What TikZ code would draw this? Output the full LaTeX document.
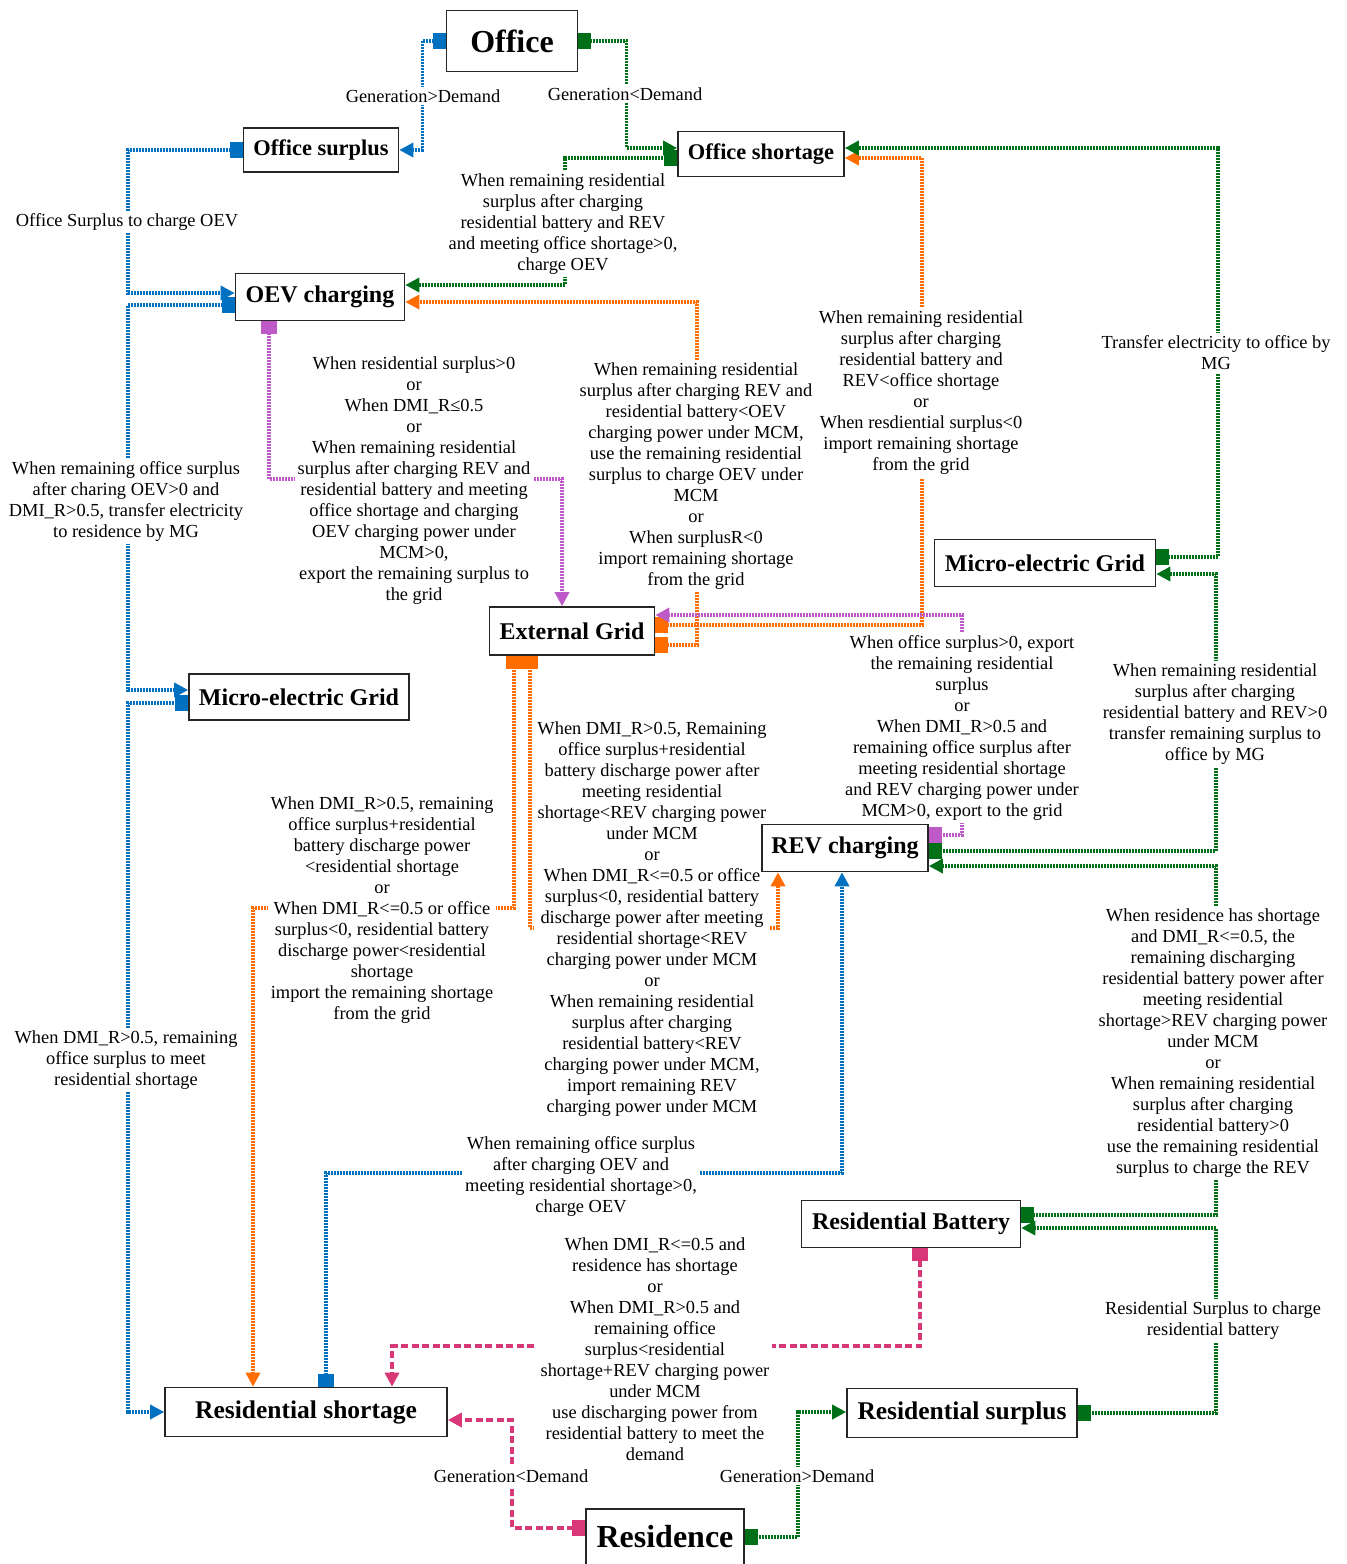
\documentclass[tikz,border=0pt]{standalone}
\usepackage{fontspec}
\setmainfont{Liberation Serif}
\usetikzlibrary{arrows.meta,calc}
\definecolor{cBlue}{RGB}{0,112,192}
\definecolor{cGreen}{RGB}{0,112,24}
\definecolor{cOrange}{RGB}{255,108,0}
\definecolor{cPurple}{RGB}{190,90,200}
\definecolor{cPink}{RGB}{216,56,120}
\tikzset{
  box/.style={draw=black!85, line width=1.6pt, fill=white, inner sep=0pt,
    font=\bfseries\fontsize{24}{24}\selectfont},
  bigbox/.style={box, font=\bfseries\fontsize{32}{32}\selectfont},
  lbl/.style={fill=white, align=center, inner sep=3pt,
    font=\fontsize{18.4}{21}\selectfont},
  flow/.style={line width=3.4pt, dash pattern=on 2pt off 1pt,
    arrows={Square[length=13pt,width=16pt]-Triangle[length=14pt,width=14pt]}},
  fb/.style={flow, draw=cBlue},
  fg/.style={flow, draw=cGreen},
  fo/.style={flow, draw=cOrange},
  fp/.style={flow, draw=cPurple},
  fk/.style={line width=3.6pt, dash pattern=on 7pt off 3.5pt, draw=cPink,
    arrows={Square[length=13pt,width=16pt]-Triangle[length=14pt,width=14pt]}}
}
\begin{document}
\begin{tikzpicture}[x=1pt,y=-1pt]
\useasboundingbox (0,0) rectangle (1347,1564);
\path
  (512,41)   coordinate (pOffice)
  (321,150)  coordinate (pOsur)
  (761,154)  coordinate (pOshort)
  (320,297)  coordinate (pOev)
  (1045,563) coordinate (pMicr)
  (572,631)  coordinate (pEgrid)
  (299,697)  coordinate (pMicl)
  (845,848)  coordinate (pRev)
  (911,1224) coordinate (pRbat)
  (306,1412) coordinate (pRshort)
  (962,1413) coordinate (pRsur)
  (665,1537) coordinate (pRes);
\node[bigbox, minimum width=131pt, minimum height=61pt] (office) at (pOffice) {Office};
\node[box, minimum width=155pt, minimum height=44pt, font=\bfseries\fontsize{22.4}{22.4}\selectfont] (osur) at (pOsur) {Office surplus};
\node[box, minimum width=166pt, minimum height=45pt, font=\bfseries\fontsize{22.4}{22.4}\selectfont] (oshort) at (pOshort) {Office shortage};
\node[box, minimum width=169pt, minimum height=47pt] (oev) at (pOev) {OEV charging};
\node[box, minimum width=221pt, minimum height=47pt] (micr) at (pMicr) {Micro-electric Grid};
\node[box, minimum width=165pt, minimum height=48pt] (egrid) at (pEgrid) {External Grid};
\node[box, minimum width=220pt, minimum height=46pt] (micl) at (pMicl) {Micro-electric Grid};
\node[box, minimum width=166pt, minimum height=47pt] (rev) at (pRev) {REV charging};
\node[box, minimum width=219pt, minimum height=47pt] (rbat) at (pRbat) {Residential Battery};
\node[box, minimum width=282pt, minimum height=49pt, font=\bfseries\fontsize{25.5}{25.5}\selectfont] (rshort) at (pRshort) {Residential shortage};
\node[box, minimum width=230pt, minimum height=49pt, font=\bfseries\fontsize{25.5}{25.5}\selectfont] (rsur) at (pRsur) {Residential surplus};
\node[bigbox, minimum width=158pt, minimum height=56pt] (res) at (pRes) {Residence};

% connectors
\draw[fb] (office.west) -- ++(-23,0) |- (osur.east);
\draw[fg] (office.east) -- ++(48,0) |- ($(oshort.west)+(0,-6)$);
\draw[fb] (osur.west) -- (128,150) |- ($(oev.west)+(0,-4)$);
\draw[fg] ($(oshort.west)+(0,4)$) -- (565,158) |- ($(oev.east)+(0,-12)$);
\draw[fo] ($(egrid.east)+(0,-6)$) -- (922,625) |- ($(oshort.east)+(0,4)$);
\draw[fo] ($(egrid.east)+(0,14)$) -- (697,645) |- ($(oev.east)+(0,5)$);
\draw[fp] ($(rev.east)+(0,-13)$) -- (962,835) |- ($(egrid.east)+(0,-16)$);
\draw[fp] ($(oev.south)+(-51,0)$) -- (269,479) -| ($(egrid.north)+(-10,0)$);
\draw[fb] ($(oev.west)+(0,8)$) -- (128,305) |- ($(micl.west)+(0,-7)$);
\draw[fb] ($(micl.west)+(0,6)$) -- (128,703) |- (rshort.west);
\draw[fo] ($(egrid.south)+(-58,0)$) -- (514,908) -| ($(rshort.north)+(-53,0)$);
\draw[fo] ($(egrid.south)+(-42,0)$) -- (530,928) -| ($(rev.south)+(-67,0)$);
\draw[fb] ($(rshort.north)+(20,0)$) -- (326,1173) -| ($(rev.south)+(-3,0)$);
\draw[fk] ($(rbat.south)+(9,0)$) -- (920,1346) -| ($(rshort.north)+(86,0)$);
\draw[fk] ($(res.west)+(0,-9)$) -- (512,1528) |- ($(rshort.east)+(0,8)$);
\draw[fg] (res.east) -- (798,1537) |- ($(rsur.west)+(0,-1)$);
\draw[fg] (rsur.east) -- (1216,1413) |- ($(rbat.east)+(0,4)$);
\draw[fg] ($(rbat.east)+(0,-9)$) -- (1216,1215) |- ($(rev.east)+(0,18)$);
\draw[fg] ($(rev.east)+(0,3)$) -- (1216,851) |- ($(micr.east)+(0,11)$);
\draw[fg] ($(micr.east)+(0,-6)$) -- (1218,557) |- ($(oshort.east)+(0,-6)$);

% labels
\node[lbl] (l1) at (423,96) {Generation>Demand};
\node[lbl] (l2) at (625,94) {Generation<Demand};
\node[lbl] (l3) at (127,222) {Office Surplus to charge OEV};
\node[lbl] (l4) at (563,224) {When remaining residential\\surplus after charging\\residential battery and REV\\and meeting office shortage>0,\\charge OEV};
\node[lbl] (l5) at (921,393) {When remaining residential\\surplus after charging\\residential battery and\\REV<office shortage\\or\\When resdiential surplus<0\\import remaining shortage\\from the grid};
\node[lbl] (l6) at (1216,353) {Transfer electricity to office by\\MG};
\node[lbl] (l7) at (414,481) {When residential surplus>0\\or\\When DMI\_R≤0.5\\or\\When remaining residential\\surplus after charging REV and\\residential battery and meeting\\office shortage and charging\\OEV charging power under\\MCM>0,\\export the remaining surplus to\\the grid};
\node[lbl] (l8) at (696,476) {When remaining residential\\surplus after charging REV and\\residential battery<OEV\\charging power under MCM,\\use the remaining residential\\surplus to charge OEV under\\MCM\\or\\When surplusR<0\\import remaining shortage\\from the grid};
\node[lbl] (l9) at (126,501) {When remaining office surplus\\after charing OEV>0 and\\DMI\_R>0.5, transfer electricity\\to residence by MG};
\node[lbl] (l10) at (962,728) {When office surplus>0, export\\the remaining residential\\surplus\\or\\When DMI\_R>0.5 and\\remaining office surplus after\\meeting residential shortage\\and REV charging power under\\MCM>0, export to the grid};
\node[lbl] (l11) at (1215,714) {When remaining residential\\surplus after charging\\residential battery and REV>0\\transfer remaining surplus to\\office by MG};
\node[lbl] (l12) at (652,919) {When DMI\_R>0.5, Remaining\\office surplus+residential\\battery discharge power after\\meeting residential\\shortage<REV charging power\\under MCM\\or\\When DMI\_R<=0.5 or office\\surplus<0, residential battery\\discharge power after meeting\\residential shortage<REV\\charging power under MCM\\or\\When remaining residential\\surplus after charging\\residential battery<REV\\charging power under MCM,\\import remaining REV\\charging power under MCM};
\node[lbl] (l13) at (382,910) {When DMI\_R>0.5, remaining\\office surplus+residential\\battery discharge power\\<residential shortage\\or\\When DMI\_R<=0.5 or office\\surplus<0, residential battery\\discharge power<residential\\shortage\\import the remaining shortage\\from the grid};
\node[lbl] (l14) at (126,1060) {When DMI\_R>0.5, remaining\\office surplus to meet\\residential shortage};
\node[lbl] (l15) at (1213,1043) {When residence has shortage\\and DMI\_R<=0.5, the\\remaining discharging\\residential battery power after\\meeting residential\\shortage>REV charging power\\under MCM\\or\\When remaining residential\\surplus after charging\\residential battery>0\\use the remaining residential\\surplus to charge the REV};
\node[lbl] (l16) at (581,1176) {When remaining office surplus\\after charging OEV and\\meeting residential shortage>0,\\charge OEV};
\node[lbl] (l17) at (655,1349) {When DMI\_R<=0.5 and\\residence has shortage\\or\\When DMI\_R>0.5 and\\remaining office\\surplus<residential\\shortage+REV charging power\\under MCM\\use discharging power from\\residential battery to meet the\\demand};
\node[lbl] (l18) at (1213,1321) {Residential Surplus to charge\\residential battery};
\node[lbl] (l19) at (511,1476) {Generation<Demand};
\node[lbl] (l20) at (797,1476) {Generation>Demand};

% redraw boxes on top of the label backgrounds
\node[bigbox, minimum width=131pt, minimum height=61pt] at (pOffice) {Office};
\node[box, minimum width=155pt, minimum height=44pt, font=\bfseries\fontsize{22.4}{22.4}\selectfont] at (pOsur) {Office surplus};
\node[box, minimum width=166pt, minimum height=45pt, font=\bfseries\fontsize{22.4}{22.4}\selectfont] at (pOshort) {Office shortage};
\node[box, minimum width=169pt, minimum height=47pt] at (pOev) {OEV charging};
\node[box, minimum width=221pt, minimum height=47pt] at (pMicr) {Micro-electric Grid};
\node[box, minimum width=165pt, minimum height=48pt] at (pEgrid) {External Grid};
\node[box, minimum width=220pt, minimum height=46pt] at (pMicl) {Micro-electric Grid};
\node[box, minimum width=166pt, minimum height=47pt] at (pRev) {REV charging};
\node[box, minimum width=219pt, minimum height=47pt] at (pRbat) {Residential Battery};
\node[box, minimum width=282pt, minimum height=49pt, font=\bfseries\fontsize{25.5}{25.5}\selectfont] at (pRshort) {Residential shortage};
\node[box, minimum width=230pt, minimum height=49pt, font=\bfseries\fontsize{25.5}{25.5}\selectfont] at (pRsur) {Residential surplus};
\node[bigbox, minimum width=158pt, minimum height=56pt] at (pRes) {Residence};
\end{tikzpicture}
\end{document}
